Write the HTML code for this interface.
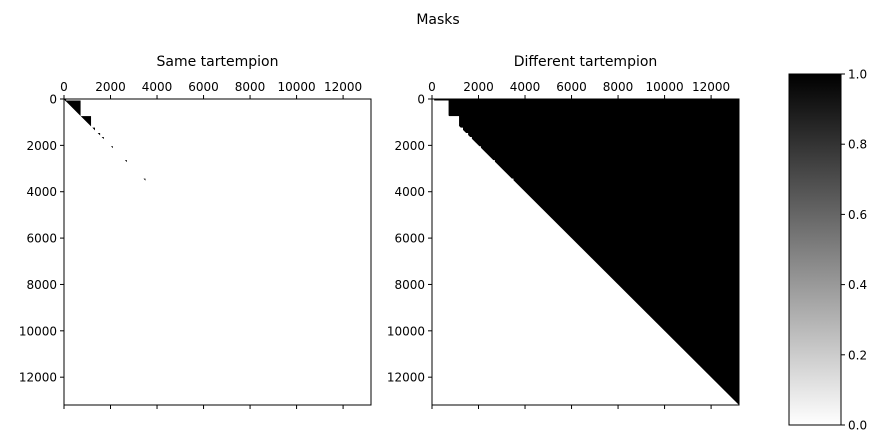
<!DOCTYPE html>
<html><head><meta charset="utf-8"><style>
body{margin:0;background:#fff;font-family:"Liberation Sans","DejaVu Sans",sans-serif}
svg text{font-family:"DejaVu Sans","Liberation Sans",sans-serif}
</style></head><body>
<svg id="fig" width="880" height="443" xmlns="http://www.w3.org/2000/svg">
<defs><linearGradient id="cb" x1="0" y1="1" x2="0" y2="0"><stop offset="0" stop-color="#fff"/><stop offset="1" stop-color="#000"/></linearGradient></defs>
<text x="438" y="24" font-size="14" text-anchor="middle">Masks</text>
<g id="cbar">
<rect x="789" y="74" width="52" height="351" fill="url(#cb)" stroke="#000" stroke-width="1"/>
</g>
</svg>
<script>
const N = 13200;
const groupStarts = [0, 80, 750, 1250, 1480, 1650, 2050, 2650, 3450];
const groupEnds   = [80, 700, 1150, 1320, 1540, 1700, 2090, 2690, 3490];
const tickValues = [0, 2000, 4000, 6000, 8000, 10000, 12000];
const cbTicks = [0.0, 0.2, 0.4, 0.6, 0.8, 1.0];
const panelTitles = ["Same tartempion", "Different tartempion"];
const svg = document.getElementById('fig');
const NS = 'http://www.w3.org/2000/svg';
function mk(t, a, p){const e=document.createElementNS(NS,t);for(const k in a)e.setAttribute(k,a[k]);(p||svg).appendChild(e);return e;}
const panels=[{x0:64,y0:99},{x0:432,y0:99}];
const W=307,H=306;
panels.forEach((p,i)=>{
  const sx=v=>p.x0+v/N*W, sy=v=>p.y0+v/N*H;
  const g=mk('g',{});
  
  
  const t=mk('text',{x:p.x0+W/2,y:66,'font-size':14,'text-anchor':'middle'},g);t.textContent=panelTitles[i];
  
  
  if(i===1){
    const tri=mk('polygon',{points:`${sx(0)},${sy(0)} ${sx(N)},${sy(0)} ${sx(N)},${sy(N)}`,fill:'#000'},g);
    
    
  }
  for(let k=0;k<groupStarts.length;k++){
    const a=groupStarts[k],b=groupEnds[k];
    const col=i===0?'#000':'#fff';
    const e=mk('polygon',{points:`${sx(a)},${sy(a)} ${sx(b)},${sy(a)} ${sx(b)},${sy(b)}`,fill:col,stroke:col,'stroke-width':0.6},g);
    
    
  }
  mk('rect',{x:p.x0,y:p.y0,width:W,height:H,fill:'none',stroke:'#000','stroke-width':1},g);
  tickValues.forEach(v=>{
    mk('line',{x1:sx(v),x2:sx(v),y1:p.y0,y2:p.y0-4,stroke:'#000'},g);
    mk('line',{x1:sx(v),x2:sx(v),y1:p.y0+H,y2:p.y0+H+4,stroke:'#000'},g);
    const xl=mk('text',{x:sx(v),y:p.y0-8,'font-size':12,'text-anchor':'middle'},g);xl.textContent=v;
    
    
    mk('line',{x1:p.x0,x2:p.x0-4,y1:sy(v),y2:sy(v),stroke:'#000'},g);
    const yl=mk('text',{x:p.x0-7,y:sy(v)+4.5,'font-size':12,'text-anchor':'end'},g);yl.textContent=v;
    
    
  });
});
const cb=document.getElementById('cbar');
cbTicks.forEach(v=>{
  const y=425-v*351;
  mk('line',{x1:841,x2:845,y1:y,y2:y,stroke:'#000'},cb);
  const t=mk('text',{x:848,y:y+4.5,'font-size':12},cb);t.textContent=v.toFixed(1);
  
  
});
</script>
</body></html>
